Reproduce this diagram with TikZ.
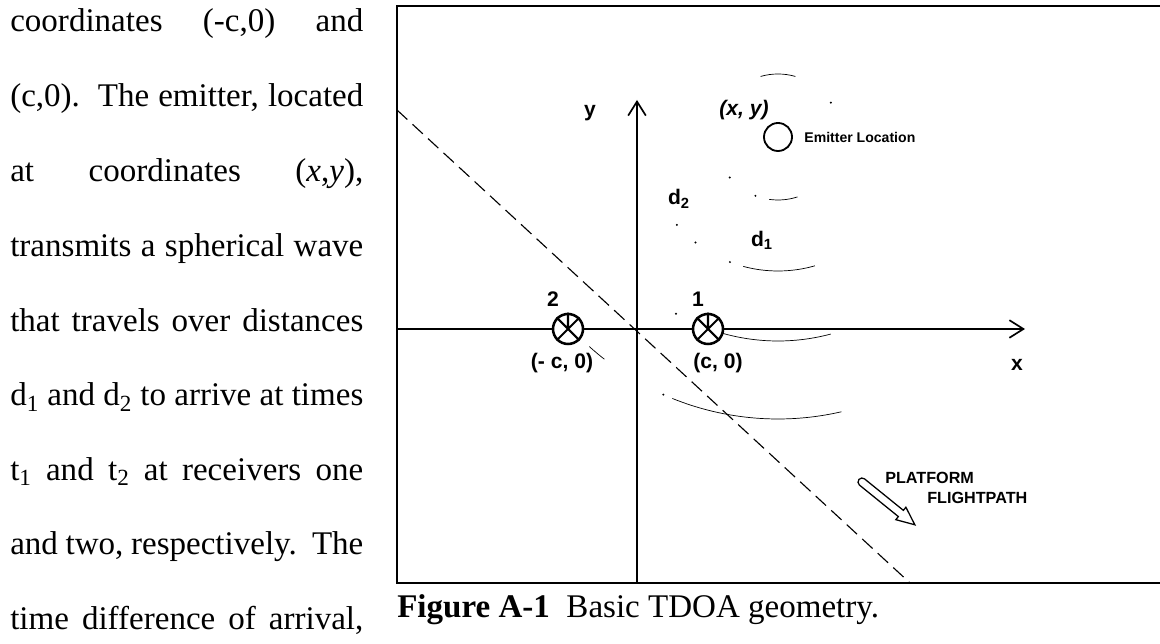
\documentclass[tikz,border=0pt]{standalone}
\usepackage{fontspec}
\setmainfont{Liberation Serif}
\setsansfont{Liberation Sans}
\usetikzlibrary{arrows.meta,positioning}
\newcommand{\lblfont}{\fontsize{15}{18}\selectfont\sffamily\bfseries}
\newcommand{\bodyline}[1]{\makebox[8.825cm][s]{#1}}

\begin{document}
\begin{tikzpicture}[x=0.025cm,y=0.025cm,
  every node/.style={inner sep=0pt},
  body/.style={anchor=base west,font=\fontsize{23.5}{28}\selectfont},
  lbl/.style={font=\lblfont},
  frame/.style={line width=1.6pt},
  axis/.style={line width=1.4pt,-{Straight Barb[length=3.5mm,width=4.4mm,line width=1.2pt]}},
  rx/.style={circle,draw,line width=1.8pt,fill=white,minimum size=0.75cm},
  emit/.style={circle,draw,line width=1.3pt,fill=white,minimum size=0.7cm},
  wave/.style={line width=0.5pt},
  flight/.style={dash pattern=on 10pt off 5pt,line width=0.8pt}
]
\useasboundingbox (0,0) rectangle (1160,644);

% text column left of the figure
\node[body] (t1) at (10,612) {\bodyline{coordinates (-c,0) and}};
\node[body] (t2) at (10,537) {\bodyline{(c,0).\ \ The emitter, located}};
\node[body] (t3) at (10,462.5) {\bodyline{at coordinates (\textit{x},\textit{y}),}};
\node[body] (t4) at (10,387.5) {\bodyline{transmits a spherical wave}};
\node[body] (t5) at (10,312.4) {\bodyline{that travels over distances}};
\node[body] (t6) at (10,238) {\bodyline{d\textsubscript{1} and d\textsubscript{2} to arrive at times}};
\node[body] (t7) at (10,163.6) {\bodyline{t\textsubscript{1} and t\textsubscript{2} at receivers one}};
\node[body] (t8) at (10,89.2) {\bodyline{and two, respectively.\ \ The}};
\node[body] (t9) at (10,14.8) {\bodyline{time difference of arrival,}};

% frame and caption
\draw[frame] (1160,638) -- (397,638) -- (397,61) -- (1160,61);
\node[body,font=\fontsize{23.5}{28}\selectfont] (cap) at (397,26) {\textbf{Figure A-1}\ \ Basic TDOA geometry.};

% wave fronts round the emitter
\coordinate (E0) at (778,507);
\draw[wave] (E0) ++(74:63) arc[start angle=74,end angle=106,radius=63];
\draw[wave] (E0) ++(262:63) arc[start angle=262,end angle=288,radius=63];
\draw[wave] (E0) ++(255:134) arc[start angle=255,end angle=286,radius=134];
\draw[wave] (E0) ++(250:204) arc[start angle=250,end angle=285,radius=204];
\draw[wave] (E0) ++(248:282) arc[start angle=248,end angle=283,radius=282];
\draw[wave] (E0) ++(228:282) arc[start angle=228,end angle=232,radius=282];
\foreach \r/\a in {63/33,63/220,63/249,134/221,134/232,134/249,204/240,282/246}
  \fill (E0) ++(\a:\r) circle (1.1);

% axes and flight path
\coordinate (O) at (637,315);
\coordinate (xstart) at (397,315);
\coordinate (xend) at (1025,315);
\coordinate (ybot) at (637,61);
\coordinate (yend) at (637,544);
\coordinate (fp1) at (397,534);
\coordinate (fp2) at (910,61);
\draw[flight] (fp1) -- (fp2);
\draw[axis] (xstart) -- (xend);
\draw[axis,line width=1.2pt] (ybot) -- (yend);
\node[lbl] (ylab) at (590,531) {y};
\node[lbl] (xlab) at (1017,279) {x};

% receivers
\node[rx] (rx2) at (568,315) {};
\node[rx] (rx1) at (708,315) {};
\foreach \r in {rx1,rx2}
  \draw[line width=1.5pt] (\r.north west) -- (\r.south east) (\r.north east) -- (\r.south west) (\r.north) -- (\r.center);
\node[lbl] (n2) at (553,345) {2};
\node[lbl] (n1) at (698,345) {1};
\node[lbl] (c2) at (562,281) {(- c, 0)};
\node[lbl] (c1) at (718,281) {(c, 0)};

% emitter
\node[emit] (E) at (E0) {};
\node[lbl,font=\lblfont\itshape] (xy) at (744,534) {(x, y)};
\node[font=\fontsize{10}{12}\selectfont\sffamily\bfseries,right=2.8mm of E] (emlab) {Emitter Location};
\node[lbl] (d2) at (679,445) {d\textsubscript{2}};
\node[lbl] (d1) at (762,404) {d\textsubscript{1}};

% platform direction
\begin{scope}[shift={(862,162)},rotate=-39]
\draw[line width=0.9pt] (0,4) -- (50,4) -- (50,8) -- (68,0) -- (50,-8) -- (50,-4) -- (0,-4) arc[start angle=-90,end angle=-270,radius=4] -- cycle;
\end{scope}
\node[font=\fontsize{11.5}{13}\selectfont\sffamily\bfseries,anchor=west] (pf) at (885,166) {PLATFORM};
\node[font=\fontsize{11.5}{13}\selectfont\sffamily\bfseries,anchor=west] (fl) at (927,146) {FLIGHTPATH};
\end{tikzpicture}
\end{document}
